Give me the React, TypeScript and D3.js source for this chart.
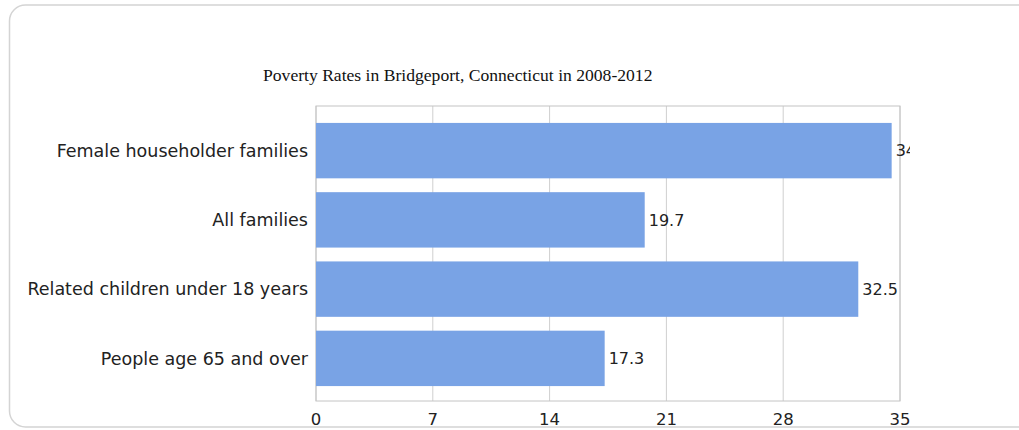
import React from "react";
import * as d3 from "d3";

// Poverty rates (%) by group
const categories: string[] = [
  "Female householder families",
  "All families",
  "Related children under 18 years",
  "People age 65 and over",
];
const rates: number[] = [34.5, 19.7, 32.5, 17.3];
const tickValues: number[] = [0, 7, 14, 21, 28, 35];
const title = "Poverty Rates in Bridgeport, Connecticut in 2008-2012";

const W = 1019;
const H = 430;
const plot = { left: 316, right: 900, top: 106, bottom: 401 };

export default function App() {
  const x = d3.scaleLinear().domain([0, 35]).range([plot.left, plot.right]);
  const y = d3
    .scaleBand<string>()
    .domain(categories)
    .range([116, 393])
    .paddingInner(0.2)
    .paddingOuter(0.1);

  const sans = "'DejaVu Sans', Verdana, sans-serif";

  return (
    <svg
      width={W}
      height={H}
      style={{ position: "absolute", left: 0, top: 0, background: "#fff" }}
    >
      <defs>
        <clipPath id="valueClip">
          <rect x={plot.left} y={plot.top} width={910 - plot.left} height={plot.bottom - plot.top} />
        </clipPath>
      </defs>
      {/* card outline */}
      <rect
        x={9.5}
        y={5}
        width={1040}
        height={422}
        rx={16}
        ry={16}
        fill="#fff"
        stroke="#d4d4d4"
        strokeWidth={1.5}
      />
      <text
        x={263}
        y={81}
        fontFamily="'Liberation Serif', 'Times New Roman', serif"
        fontSize={17.6}
        fill="#111"
      >
        {title}
      </text>

      {/* vertical grid */}
      {tickValues.map((t) => (
        <line
          key={"g" + t}
          x1={x(t)}
          x2={x(t)}
          y1={plot.top}
          y2={plot.bottom}
          stroke="#cfcfcf"
          strokeWidth={1}
        />
      ))}
      <rect
        x={plot.left}
        y={plot.top}
        width={plot.right - plot.left}
        height={plot.bottom - plot.top}
        fill="none"
        stroke="#c4c4c4"
        strokeWidth={1}
      />

      {/* bars */}
      {categories.map((c, i) => (
        <rect
          key={c}
          x={x(0)}
          y={y(c)!}
          width={x(rates[i]) - x(0)}
          height={y.bandwidth()}
          fill="#79a3e5"
        />
      ))}

      {/* value labels */}
      <g clipPath="url(#valueClip)">
        {categories.map((c, i) => (
          <text
            key={"v" + c}
            x={x(rates[i]) + 4}
            y={y(c)! + y.bandwidth() / 2}
            dy="0.36em"
            fontFamily={sans}
            fontSize={16}
            fill="#222"
          >
            {rates[i]}
          </text>
        ))}
      </g>

      {/* category labels */}
      {categories.map((c) => (
        <text
          key={"c" + c}
          x={308}
          y={y(c)! + y.bandwidth() / 2}
          dy="0.36em"
          textAnchor="end"
          fontFamily={sans}
          fontSize={17.5}
          fill="#222"
        >
          {c}
        </text>
      ))}

      {/* x tick labels */}
      {tickValues.map((t) => (
        <text
          key={"t" + t}
          x={x(t)}
          y={425}
          textAnchor="middle"
          fontFamily={sans}
          fontSize={16.5}
          fill="#222"
        >
          {t}
        </text>
      ))}
    </svg>
  );
}
